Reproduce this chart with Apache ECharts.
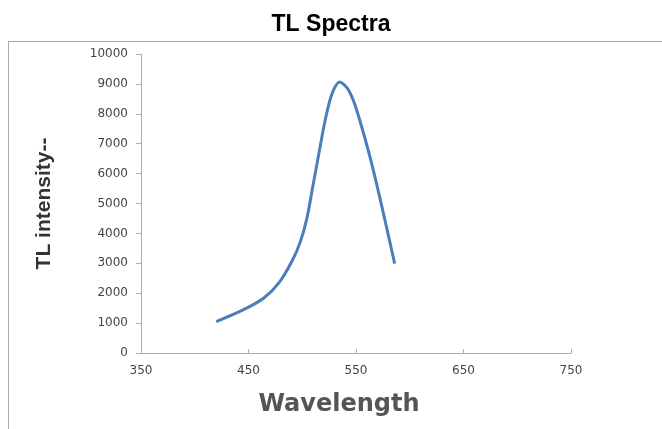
<!DOCTYPE html>
<html>
<head>
<meta charset="utf-8">
<script src="https://cdn.jsdelivr.net/npm/echarts@6/dist/echarts.min.js"></script>
<style>
html,body{margin:0;padding:0;background:#fff;}
#chart{width:662px;height:429px;}
</style>
</head>
<body>
<div id="chart"></div>
<script>
const titleText = 'TL Spectra';
const xAxisName = 'Wavelength';
const yAxisName = 'TL intensity--';
const wavelength = [420, 445, 464, 479, 491, 498, 504, 510, 516, 522, 528, 535, 542, 548, 555, 563, 572, 586];
const intensity = [1050, 1440, 1830, 2380, 3110, 3700, 4450, 5600, 6780, 7900, 8700, 9060, 8850, 8400, 7600, 6560, 5220, 2990];
const xTicks = [350, 450, 550, 650, 750];
const yTicks = [0, 1000, 2000, 3000, 4000, 5000, 6000, 7000, 8000, 9000, 10000];

const points = wavelength.map((w, i) => [w, intensity[i]]);

const chart = echarts.init(document.getElementById('chart'), null, {renderer: 'canvas'});
chart.setOption({
  animation: false,
  backgroundColor: '#fff',
  title: {
    text: titleText,
    left: 'center',
    top: 8,
    textStyle: {fontFamily: '"Liberation Sans Narrow", "Liberation Sans", Arial, sans-serif', fontWeight: 'bold', fontSize: 23, color: '#000'}
  },
  graphic: [
    {type: 'line', shape: {x1: 8, y1: 41.5, x2: 662, y2: 41.5}, style: {stroke: '#aaa', lineWidth: 1}, silent: true},
    {type: 'line', shape: {x1: 8.5, y1: 41, x2: 8.5, y2: 429}, style: {stroke: '#aaa', lineWidth: 1}, silent: true}
  ],
  grid: {left: 141, right: 91, top: 54, bottom: 76, containLabel: false},
  xAxis: {
    type: 'value',
    min: xTicks[0],
    max: xTicks[xTicks.length - 1],
    interval: 100,
    name: xAxisName,
    nameLocation: 'middle',
    nameGap: 40,
    nameTextStyle: {fontFamily: '"DejaVu Sans", Verdana, sans-serif', fontWeight: 'bold', fontSize: 24, color: '#555', padding: [0, 34, 0, 0]},
    axisLine: {show: true, lineStyle: {color: '#b0b0b0', width: 1}},
    axisTick: {show: true, inside: true, length: 4, lineStyle: {color: '#b0b0b0'}},
    axisLabel: {margin: 12, fontFamily: '"DejaVu Sans", sans-serif', fontSize: 12, color: '#444', formatter: v => String(v)},
    splitLine: {show: false}
  },
  yAxis: {
    type: 'value',
    min: yTicks[0],
    max: yTicks[yTicks.length - 1],
    interval: 1000,
    name: yAxisName,
    nameLocation: 'middle',
    nameGap: 86,
    nameRotate: 90,
    nameTextStyle: {fontFamily: '"Liberation Sans Narrow", "Liberation Sans", Arial, sans-serif', fontWeight: 'bold', fontSize: 21, color: '#333'},
    axisLine: {show: true, lineStyle: {color: '#b0b0b0', width: 1}},
    axisTick: {show: true, inside: false, length: 5, lineStyle: {color: '#b0b0b0'}},
    axisLabel: {margin: 13, fontFamily: '"DejaVu Sans", sans-serif', fontSize: 12, color: '#444', formatter: v => String(v)},
    splitLine: {show: false}
  },
  series: [{
    type: 'line',
    data: points,
    smooth: 0.3,
    showSymbol: false,
    lineStyle: {color: '#4a7ebb', width: 3}
  }]
});
</script>
</body>
</html>
